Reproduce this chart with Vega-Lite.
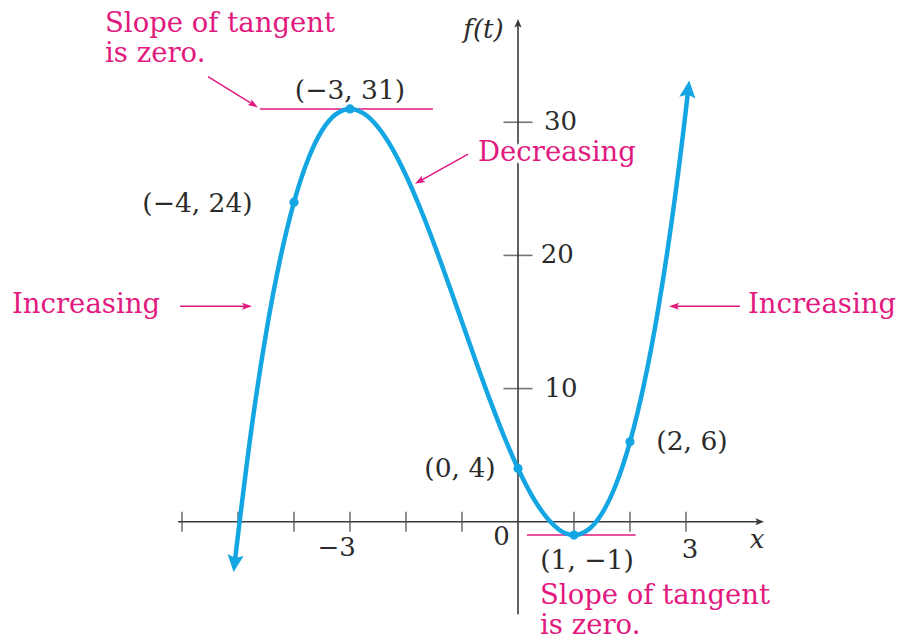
{
  "$schema": "https://vega.github.io/schema/vega-lite/v6.json",
  "width": 910,
  "height": 640,
  "autosize": {"type": "fit", "contains": "padding"},
  "padding": 0,
  "background": "white",
  "config": {"view": {"stroke": null}},
  "datasets": {
    "curve": [
      {"x": -5.06, "y": -3.1}, {"x": -5, "y": -1}, {"x": -4.75, "y": 7.27}, {"x": -4.5, "y": 14.13},
      {"x": -4.25, "y": 19.67}, {"x": -4, "y": 24}, {"x": -3.75, "y": 27.2}, {"x": -3.5, "y": 29.38},
      {"x": -3.25, "y": 30.61}, {"x": -3, "y": 31}, {"x": -2.75, "y": 30.64}, {"x": -2.5, "y": 29.63},
      {"x": -2.25, "y": 28.05}, {"x": -2, "y": 26}, {"x": -1.75, "y": 23.58}, {"x": -1.5, "y": 20.88},
      {"x": -1.25, "y": 17.98}, {"x": -1, "y": 15}, {"x": -0.75, "y": 12.02}, {"x": -0.5, "y": 9.13},
      {"x": -0.25, "y": 6.42}, {"x": 0, "y": 4}, {"x": 0.25, "y": 1.95}, {"x": 0.5, "y": 0.38},
      {"x": 0.75, "y": -0.64}, {"x": 1, "y": -1}, {"x": 1.25, "y": -0.61}, {"x": 1.5, "y": 0.63},
      {"x": 1.75, "y": 2.8}, {"x": 2, "y": 6}, {"x": 2.25, "y": 10.33}, {"x": 2.5, "y": 15.88},
      {"x": 2.75, "y": 22.73}, {"x": 3, "y": 31}, {"x": 3.04, "y": 32.46}
    ],
    "points": [
      {"x": -4, "y": 24}, {"x": -3, "y": 31}, {"x": 0, "y": 4}, {"x": 1, "y": -1}, {"x": 2, "y": 6}
    ],
    "axisLines": [
      {"x": -6.07, "y": 0, "x2": 4.313, "y2": 0},
      {"x": 0, "y": -6.94, "x2": 0, "y2": 37.42}
    ],
    "xTicks": [
      {"x": -6, "y": 0}, {"x": -5, "y": 0}, {"x": -4, "y": 0}, {"x": -3, "y": 0}, {"x": -2, "y": 0},
      {"x": -1, "y": 0}, {"x": 1, "y": 0}, {"x": 2, "y": 0}, {"x": 3, "y": 0}
    ],
    "yTicks": [
      {"x": 0, "y": 10}, {"x": 0, "y": 20}, {"x": 0, "y": 30}
    ],
    "heads": [
      {"id": "xaxis", "x": 4.313, "y": 0},
      {"id": "yaxis", "x": 0, "y": 37.42},
      {"id": "blueTop", "x": 3.04, "y": 32.46},
      {"id": "blueBottom", "x": -5.06, "y": -3.1},
      {"id": "pinkTL", "x": -4.719, "y": 31.31},
      {"id": "pinkDec", "x": -1.762, "y": 25.56},
      {"id": "pinkIncL", "x": -4.839, "y": 16.19},
      {"id": "pinkIncR", "x": 2.786, "y": 16.19}
    ],
    "pinkLines": [
      {"x": -4.61, "y": 31, "x2": -1.52, "y2": 31},
      {"x": 0.16, "y": -1, "x2": 2.1, "y2": -1},
      {"x": -5.536, "y": 33.43, "x2": -4.719, "y2": 31.31},
      {"x": -0.893, "y": 27.61, "x2": -1.762, "y2": 25.56},
      {"x": -6.036, "y": 16.19, "x2": -4.839, "y2": 16.19},
      {"x": 3.964, "y": 16.19, "x2": 2.786, "y2": 16.19}
    ],
    "pinkText": [
      {"x": -7.375, "y": 36.79, "text": "Slope of tangent\nis zero."},
      {"x": -0.714, "y": 27.09, "text": "Decreasing"},
      {"x": -9.036, "y": 15.67, "text": "Increasing"},
      {"x": 4.107, "y": 15.67, "text": "Increasing"},
      {"x": 0.393, "y": -6.19, "text": "Slope of tangent\nis zero."}
    ],
    "pointLabels": [
      {"x": -3.0, "y": 32.31, "text": "(−3, 31)"},
      {"x": -5.723, "y": 23.88, "text": "(−4, 24)"},
      {"x": -1.036, "y": 3.955, "text": "(0, 4)"},
      {"x": 3.107, "y": 5.97, "text": "(2, 6)"},
      {"x": 1.232, "y": -2.985, "text": "(1, −1)"}
    ],
    "tickLabels": [
      {"x": 0.759, "y": 30, "text": "30"},
      {"x": 0.7, "y": 20, "text": "20"},
      {"x": 0.77, "y": 10, "text": "10"},
      {"x": -0.295, "y": -1.12, "text": "0"},
      {"x": -3.24, "y": -1.99, "text": "−3"},
      {"x": 3.07, "y": -2.09, "text": "3"}
    ],
    "axisTitles": [
      {"x": 4.268, "y": -1.34, "text": "x"},
      {"x": -0.616, "y": 36.94, "text": "f(t)"}
    ]
  },
  "encoding": {
    "x": {"field": "x", "type": "quantitative", "scale": {"domain": [-9.25, 7.0], "nice": false, "zero": false}, "axis": null},
    "y": {"field": "y", "type": "quantitative", "scale": {"domain": [-8.58, 39.18], "nice": false, "zero": false}, "axis": null}
  },
  "layer": [
    {
      "data": {"name": "axisLines"},
      "mark": {"type": "rule", "color": "#3a3a3a", "strokeWidth": 1.6},
      "encoding": {"x2": {"field": "x2"}, "y2": {"field": "y2"}}
    },
    {
      "data": {"name": "xTicks"},
      "mark": {"type": "tick", "orient": "vertical", "color": "#3a3a3a", "size": 20, "thickness": 1.6}
    },
    {
      "data": {"name": "yTicks"},
      "mark": {"type": "tick", "orient": "horizontal", "color": "#3a3a3a", "size": 29, "thickness": 1.6}
    },
    {
      "data": {"name": "pinkLines"},
      "mark": {"type": "rule", "color": "#e2197f", "strokeWidth": 1.5},
      "encoding": {"x2": {"field": "x2"}, "y2": {"field": "y2"}}
    },
    {
      "data": {"name": "curve"},
      "mark": {"type": "line", "color": "#14a6e3", "strokeWidth": 4.5, "interpolate": "monotone"}
    },
    {
      "data": {"name": "points"},
      "mark": {"type": "circle", "color": "#14a6e3", "size": 85, "opacity": 1}
    },
    {
      "data": {"name": "heads"},
      "transform": [{"filter": "datum.id === 'xaxis'"}],
      "mark": {"type": "point", "shape": "M0,-1L0.8,0.9L0,0.5L-0.8,0.9Z", "filled": true, "color": "#3a3a3a", "opacity": 1, "size": 81, "angle": 90}
    },
    {
      "data": {"name": "heads"},
      "transform": [{"filter": "datum.id === 'yaxis'"}],
      "mark": {"type": "point", "shape": "M0,-1L0.8,0.9L0,0.5L-0.8,0.9Z", "filled": true, "color": "#3a3a3a", "opacity": 1, "size": 81, "angle": 0}
    },
    {
      "data": {"name": "heads"},
      "transform": [{"filter": "datum.id === 'blueTop'"}],
      "mark": {"type": "point", "shape": "M0,-1L0.9,0.9L0,0.55L-0.9,0.9Z", "filled": true, "color": "#14a6e3", "opacity": 1, "size": 324, "angle": 6.4}
    },
    {
      "data": {"name": "heads"},
      "transform": [{"filter": "datum.id === 'blueBottom'"}],
      "mark": {"type": "point", "shape": "M0,-1L0.9,0.9L0,0.55L-0.9,0.9Z", "filled": true, "color": "#14a6e3", "opacity": 1, "size": 324, "angle": 187}
    },
    {
      "data": {"name": "heads"},
      "transform": [{"filter": "datum.id === 'pinkTL'"}],
      "mark": {"type": "point", "shape": "M0,-1L0.7,1L0,0.6L-0.7,1Z", "filled": true, "color": "#e2197f", "opacity": 1, "size": 100, "angle": 122}
    },
    {
      "data": {"name": "heads"},
      "transform": [{"filter": "datum.id === 'pinkDec'"}],
      "mark": {"type": "point", "shape": "M0,-1L0.7,1L0,0.6L-0.7,1Z", "filled": true, "color": "#e2197f", "opacity": 1, "size": 100, "angle": 240}
    },
    {
      "data": {"name": "heads"},
      "transform": [{"filter": "datum.id === 'pinkIncL'"}],
      "mark": {"type": "point", "shape": "M0,-1L0.7,1L0,0.6L-0.7,1Z", "filled": true, "color": "#e2197f", "opacity": 1, "size": 100, "angle": 90}
    },
    {
      "data": {"name": "heads"},
      "transform": [{"filter": "datum.id === 'pinkIncR'"}],
      "mark": {"type": "point", "shape": "M0,-1L0.7,1L0,0.6L-0.7,1Z", "filled": true, "color": "#e2197f", "opacity": 1, "size": 100, "angle": 270}
    },
    {
      "data": {"name": "pinkText"},
      "mark": {"type": "text", "align": "left", "baseline": "alphabetic", "lineBreak": "\n", "lineHeight": 30, "font": "DejaVu Serif", "fontSize": 27.5, "color": "white", "stroke": "white", "strokeWidth": 8},
      "encoding": {"text": {"field": "text"}}
    },
    {
      "data": {"name": "pinkText"},
      "mark": {"type": "text", "align": "left", "baseline": "alphabetic", "lineBreak": "\n", "lineHeight": 30, "font": "DejaVu Serif", "fontSize": 27.5, "color": "#e2197f"},
      "encoding": {"text": {"field": "text"}}
    },
    {
      "data": {"name": "pointLabels"},
      "mark": {"type": "text", "align": "center", "baseline": "middle", "font": "DejaVu Serif", "fontSize": 26.5, "color": "#2b2b2b"},
      "encoding": {"text": {"field": "text"}}
    },
    {
      "data": {"name": "tickLabels"},
      "mark": {"type": "text", "align": "center", "baseline": "middle", "font": "DejaVu Serif", "fontSize": 26, "color": "#2b2b2b"},
      "encoding": {"text": {"field": "text"}}
    },
    {
      "data": {"name": "axisTitles"},
      "mark": {"type": "text", "align": "center", "baseline": "middle", "font": "DejaVu Serif", "fontStyle": "italic", "fontSize": 26, "color": "#2b2b2b"},
      "encoding": {"text": {"field": "text"}}
    }
  ]
}
